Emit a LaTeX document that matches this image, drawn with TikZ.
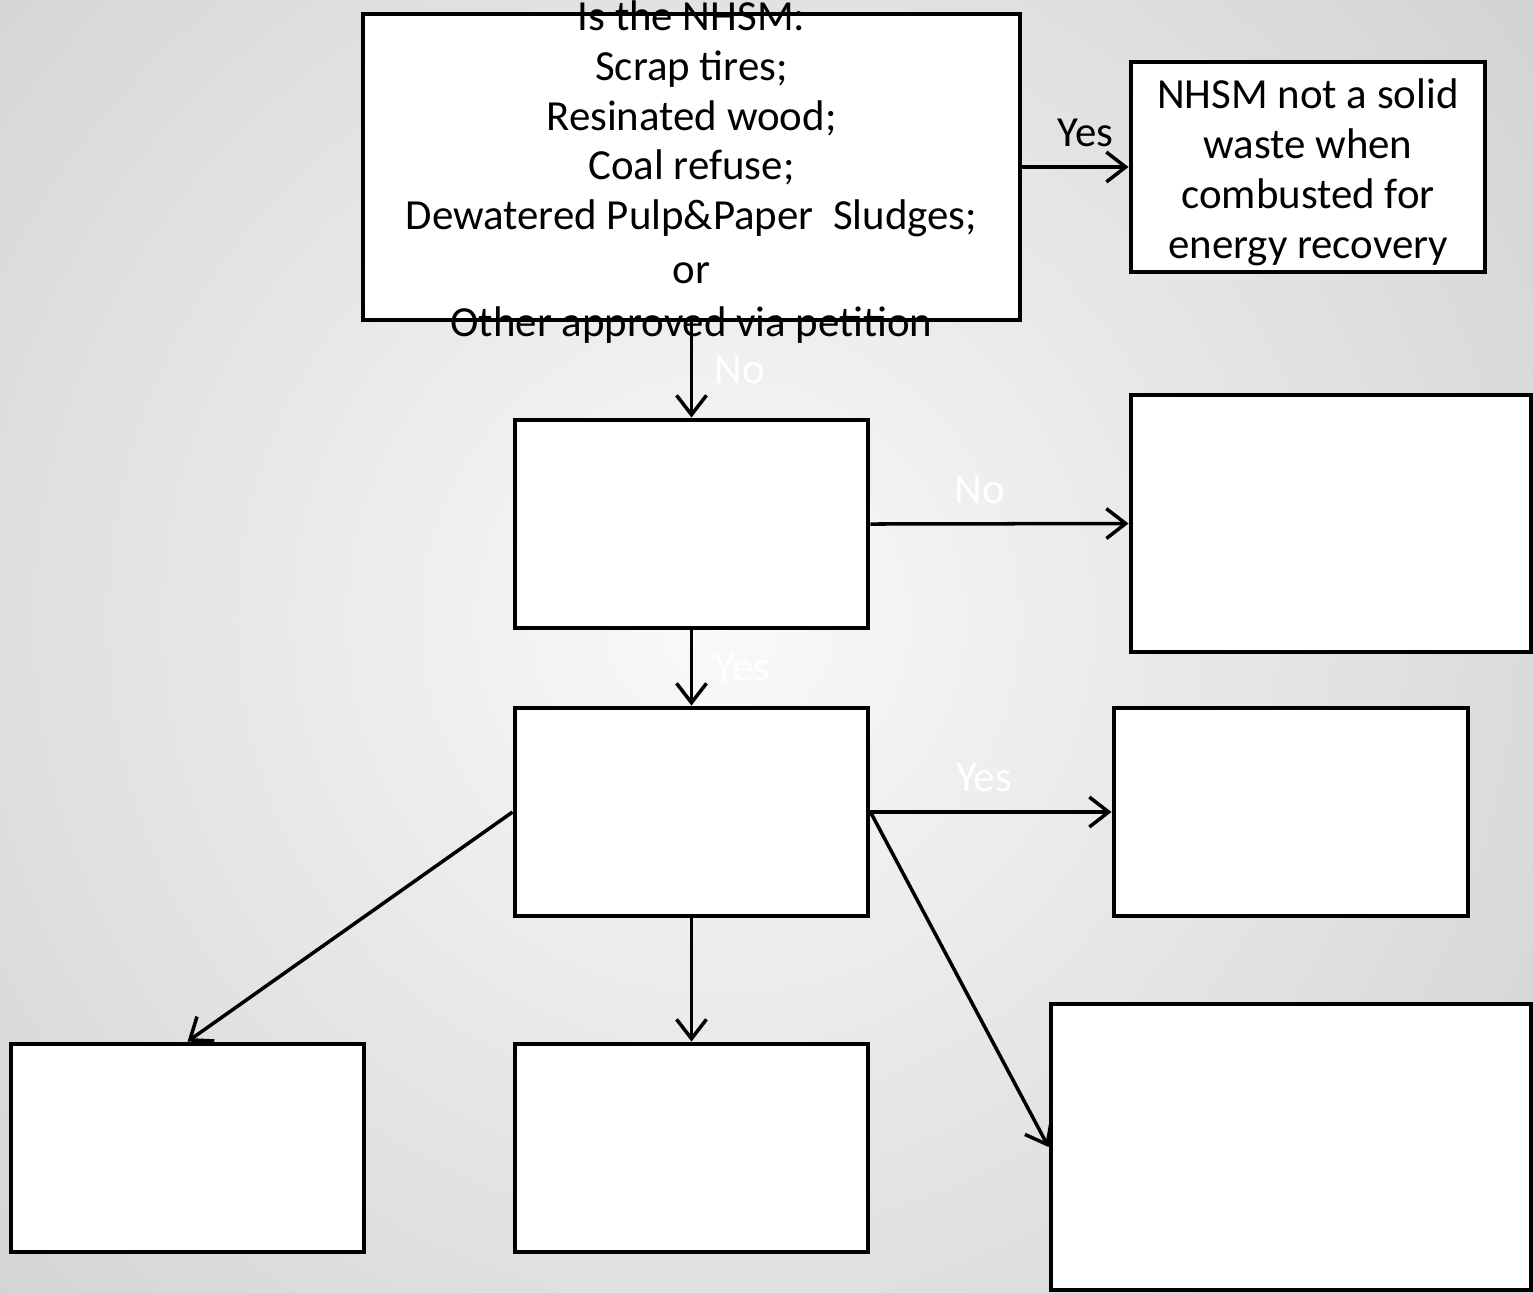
\documentclass[tikz,border=0pt]{standalone}
\usepackage{fontspec}
\setmainfont{Carlito}
\usetikzlibrary{arrows.meta}
\pgfdeclareradialshading{bgglow}{\pgfpoint{0bp}{0bp}}{color(0bp)=(white!98!black); color(50bp)=(white!65!black)}
\tikzset{
  box/.style={draw, fill=white, line width=1.4pt, inner sep=0pt, minimum width=3.53cm, minimum height=2.08cm},
  flow/.style={line width=1pt, -{Straight Barb[length=5.5pt,width=8.5pt]}},
  tag/.style={inner sep=1pt},
  ghost/.style={tag, text=white},
}
\begin{document}
\begin{tikzpicture}[font=\fontsize{12.2}{14.2}\selectfont]
  \clip (0,0) rectangle (15.33,-12.92);
  \fill[white!68!black] (0,0) rectangle (15.33,-12.92);
  \shade[shading=bgglow] (7.2,-6.2) circle (11);
  \node[anchor=base] (cut) at (4.585,0.08) {(\hspace*{1.93cm})};
  % question and the first answer
  \node[box, minimum width=6.57cm, minimum height=3.06cm] (Q) at (6.915,-1.67) {};
  \node[align=center] (Qtext) at ([yshift=-.05cm]Q.center) {Is the NHSM:\\Scrap tires;\\Resinated wood;\\Coal refuse;\\Dewatered Pulp\&Paper\ \ Sludges;\\[1.2pt]or\\[.8pt]Other approved via petition};
  \node[box, minimum width=3.54cm, minimum height=2.10cm] (NSW) at (13.08,-1.67) {};
  \node[align=center] (NSWtext) at ([yshift=-.05cm]NSW.center) {NHSM not a solid\\waste when\\combusted for\\energy recovery};
  % empty boxes
  \node[box] (B) at (6.915,-5.24) {};
  \node[box, minimum width=4cm, minimum height=2.57cm] (BN) at (13.31,-5.235) {};
  \node[box] (C) at (6.915,-8.12) {};
  \node[box, minimum width=3.54cm] (CY) at (12.91,-8.12) {};
  \node[box] (CL) at (1.875,-11.48) {};
  \node[box] (CM) at (6.915,-11.48) {};
  \node[box, minimum width=4.80cm, minimum height=2.86cm] (CR) at (12.91,-11.47) {};
  % connectors
  \draw[flow] (Q.east) -- node[tag, above=.15cm, xshift=.1cm] {Yes} (NSW.west);
  \draw[flow] (Q.south) -- node[ghost, right=.18cm] {No} (B.north);
  \draw[flow] (B.east) -- node[ghost, above=.15cm, xshift=-.2cm] {No} (BN.west);
  \draw[flow] (B.south) -- node[ghost, right=.18cm] {Yes} (C.north);
  \draw[flow] (C.east) -- node[ghost, above=.15cm, xshift=-.07cm] {Yes} (CY.west);
  \draw[flow] (C.west) -- (CL.north);
  \draw[flow] (C.south) -- (CM.north);
  \draw[flow] (C.east) -- (CR.west);
\end{tikzpicture}
\end{document}
